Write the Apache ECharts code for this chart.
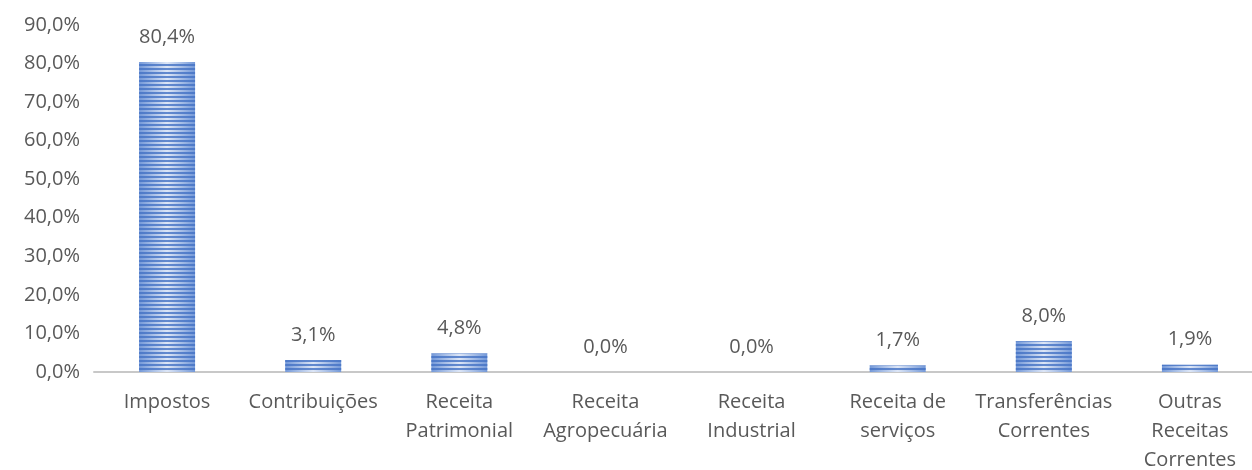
<!DOCTYPE html>
<html>
<head>
<meta charset="utf-8">
<script src="https://cdn.jsdelivr.net/npm/echarts@6/dist/echarts.min.js"></script>
<style>
  html, body { margin: 0; padding: 0; background: #fff; }
  #main { width: 1252px; height: 470px; }
</style>
</head>
<body>
<div id="main"></div>
<script>
// categorias e percentuais
var categorias = ['Impostos', 'Contribuições', 'Receita\nPatrimonial', 'Receita\nAgropecuária',
  'Receita\nIndustrial', 'Receita de\nserviços', 'Transferências\nCorrentes', 'Outras\nReceitas\nCorrentes'];
var valores = [80.4, 3.1, 4.8, 0.0, 0.0, 1.7, 8.0, 1.9];
var ticksY = [0, 10, 20, 30, 40, 50, 60, 70, 80, 90];

function pct(v) {
  return v.toFixed(1).replace('.', ',') + '%';
}

var chart = echarts.init(document.getElementById('main'));
var option = {
  animation: false,
  textStyle: { fontFamily: 'Open Sans' },
  grid: { left: 94, right: -11, top: 25, bottom: 98, outerBoundsMode: 'none', containLabel: false },
  xAxis: {
    type: 'category',
    data: categorias,
    axisLine: { lineStyle: { color: '#c8c8c8', width: 2 } },
    axisTick: { show: false },
    axisLabel: { color: '#595959', fontSize: 20, margin: 16, lineHeight: 29, interval: 0 }
  },
  yAxis: {
    type: 'value',
    min: ticksY[0],
    max: ticksY[ticksY.length - 1],
    interval: 10,
    splitLine: { show: false },
    axisLine: { show: false },
    axisTick: { show: false },
    axisLabel: { color: '#595959', fontSize: 20, margin: 14, formatter: function (v) { return pct(v); } }
  },
  series: [{
    type: 'bar',
    data: valores,
    barWidth: 56,
    itemStyle: {
      color: new echarts.graphic.LinearGradient(0, 0, 1, 0, [
        { offset: 0, color: '#7398d8' },
        { offset: 0.5, color: '#dde6f6' },
        { offset: 1, color: '#7398d8' }
      ]),
      decal: {
        symbol: 'rect',
        symbolSize: 1,
        dashArrayX: [[1, 0]],
        dashArrayY: [2, 2],
        rotation: 0,
        color: 'rgba(68,114,196,0.8)'
      }
    },
    label: {
      show: true,
      position: 'top',
      distance: 15,
      color: '#595959',
      fontSize: 20,
      formatter: function (p) { return pct(p.value); }
    }
  }]
};
chart.setOption(option);
</script>
</body>
</html>
